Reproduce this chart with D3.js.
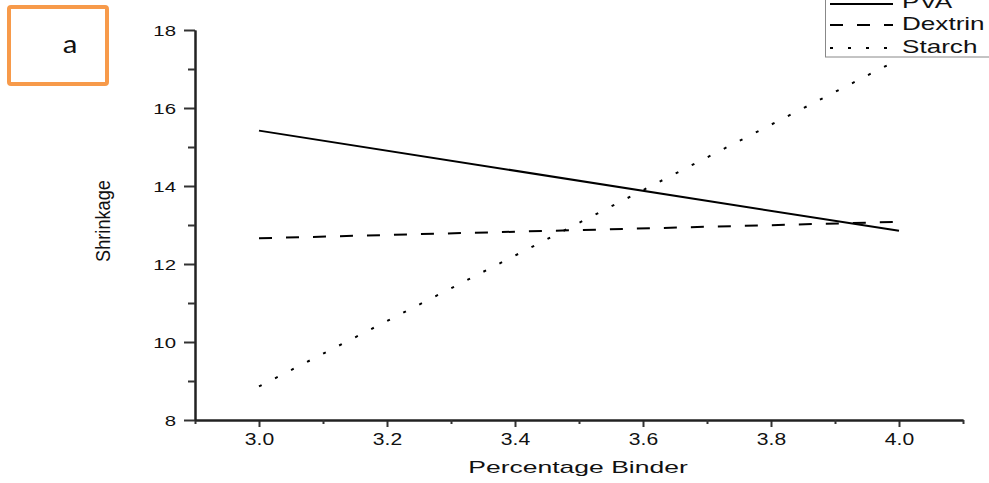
<!DOCTYPE html>
<html><head><meta charset="utf-8">
<script src="https://cdn.jsdelivr.net/npm/d3@7"></script>
<style>
html,body{margin:0;padding:0;background:#fff;}
svg{display:block;}
</style></head>
<body>
<svg id="c" width="989" height="483"></svg>
<script>
const xValues = [3.0, 4.0];
const seriesNames = ["PVA", "Dextrin", "Starch"];
const pva = [15.42, 12.85];
const dextrin = [12.66, 13.08];
const starch = [8.86, 17.25];
const xTicks = [3.0, 3.2, 3.4, 3.6, 3.8, 4.0];
const xMinor = [2.9, 3.1, 3.3, 3.5, 3.7, 3.9, 4.1];
const yTicks = [8, 10, 12, 14, 16, 18];
const yMinor = [9, 11, 13, 15, 17];

const svg = d3.select("#c");
const x = d3.scaleLinear().domain([2.9, 4.1]).range([195, 963]);
const y = d3.scaleLinear().domain([8, 18]).range([420, 30]);
const font = "Liberation Sans, Arial, sans-serif";

// Panel label box
svg.append("rect").attr("x", 9).attr("y", 7).attr("width", 98).attr("height", 77)
  .attr("rx", 2).attr("fill", "#fff").attr("stroke", "#F79A4A").attr("stroke-width", 4);
svg.append("text").attr("transform", "translate(70,53) scale(1.15,1)").attr("text-anchor", "middle")
  .attr("font-family", "Carlito, Calibri, Liberation Sans, sans-serif").attr("font-size", 27).attr("fill", "#111").text("a");

// Axes
const xAxis = d3.axisBottom(x).tickValues(xTicks).tickFormat(d3.format(".1f")).tickSize(7).tickSizeOuter(0);
const xAxisMinor = d3.axisBottom(x).tickValues(xMinor).tickFormat("").tickSize(4).tickSizeOuter(0);
const yAxis = d3.axisLeft(y).tickValues(yTicks).tickFormat(d3.format("d")).tickSize(11).tickSizeOuter(0);
const yAxisMinor = d3.axisLeft(y).tickValues(yMinor).tickFormat("").tickSize(7).tickSizeOuter(0);

function style(g){
  g.select(".domain").attr("stroke", "#222").attr("stroke-width", 2);
  g.selectAll(".tick line").attr("stroke", "#333").attr("stroke-width", 2);
  g.selectAll(".tick text").attr("font-family", font).attr("font-size", 16).attr("fill", "#111");
}
const gx = svg.append("g").attr("transform", "translate(0,420)").call(xAxis).call(style);
gx.selectAll(".tick text").attr("y", 0).attr("dy", 0)
  .attr("transform", "translate(0,25) scale(1.32,1)");
svg.append("g").attr("transform", "translate(0,420)").call(xAxisMinor).call(style);
const gy = svg.append("g").attr("transform", "translate(195,0)").call(yAxis).call(style);
gy.selectAll(".tick text").attr("x", 0).attr("dy", "0.36em").attr("font-size", 15)
  .attr("transform", "translate(-19,0) scale(1.36,1)");
svg.append("g").attr("transform", "translate(195,0)").call(yAxisMinor).call(style);

// Axis titles
svg.append("text").attr("transform", "translate(578,473) scale(1.56,1)").attr("text-anchor", "middle")
  .attr("font-family", font).attr("font-size", 17).attr("fill", "#111").text("Percentage Binder");
svg.append("text").attr("transform", "translate(110,221) rotate(-90) scale(0.91,1)").attr("text-anchor", "middle")
  .attr("font-family", font).attr("font-size", 20).attr("fill", "#111").text("Shrinkage");

// Series
const dashes = {PVA: null, Dextrin: "13,14", Starch: "3,15"};
const seriesData = {PVA: pva, Dextrin: dextrin, Starch: starch};
const line = d3.line().x((d, i) => x(xValues[i])).y(d => y(d));
seriesNames.forEach(name => {
  svg.append("path").datum(seriesData[name]).attr("d", line)
    .attr("fill", "none").attr("stroke", "#000").attr("stroke-width", 2)
    .attr("stroke-dasharray", dashes[name]);
});

// Legend
const lg = svg.append("g");
lg.append("rect").attr("x", 825.5).attr("y", -10).attr("width", 180).attr("height", 67)
  .attr("fill", "#fff").attr("stroke", "#888").attr("stroke-width", 1);
const rowsY = [4, 25, 48];
const baseY = [8, 30, 53];
seriesNames.forEach((name, i) => {
  lg.append("line").attr("x1", 830).attr("x2", 893).attr("y1", rowsY[i]).attr("y2", rowsY[i])
    .attr("stroke", "#000").attr("stroke-width", 2).attr("stroke-dasharray", dashes[name]);
  lg.append("text").attr("transform", `translate(902,${baseY[i]}) scale(1.45,1)`).attr("font-family", font)
    .attr("font-size", 18).attr("fill", "#111").text(name);
});
</script>
</body></html>
